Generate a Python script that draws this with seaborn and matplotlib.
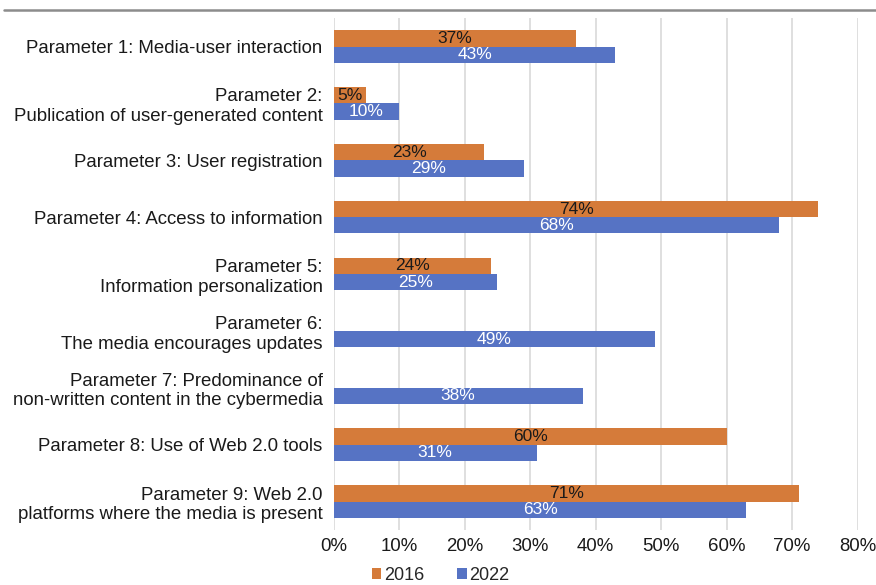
import numpy as np
import pandas as pd
import matplotlib
matplotlib.use("Agg")
import matplotlib.pyplot as plt
from matplotlib.lines import Line2D
from matplotlib.ticker import FuncFormatter
import seaborn as sns

categories = [
    "Parameter 1: Media-user interaction",
    "Parameter 2:\nPublication of user-generated content",
    "Parameter 3: User registration",
    "Parameter 4: Access to information",
    "Parameter 5:\nInformation personalization",
    "Parameter 6:\nThe media encourages updates",
    "Parameter 7: Predominance of\nnon-written content in the cybermedia",
    "Parameter 8: Use of Web 2.0 tools",
    "Parameter 9: Web 2.0\nplatforms where the media is present",
]
values_2016 = [37, 5, 23, 74, 24, np.nan, np.nan, 60, 71]
values_2022 = [43, 10, 29, 68, 25, 49, 38, 31, 63]
years = ["2016", "2022"]
colors = ["#D57B3A", "#5673C4"]

df = pd.DataFrame({
    "Parameter": categories * 2,
    "Year": [years[0]] * len(categories) + [years[1]] * len(categories),
    "Value": values_2016 + values_2022,
})

sns.set_theme(style="white")
plt.rcParams["font.family"] = ["Liberation Sans", "DejaVu Sans"]

fig = plt.figure(figsize=(8.76, 5.85), dpi=100)
ax = fig.add_axes([0.381, 0.094, 0.598, 0.875])

sns.barplot(data=df, y="Parameter", x="Value", hue="Year", order=categories,
            hue_order=years, palette=colors, orient="h", width=0.57,
            saturation=1, errorbar=None, ax=ax, legend=True, linewidth=0)

ax.set_xlim(0, 80)
ax.set_ylim(len(categories) - 0.5, -0.5)
ax.set_xticks(np.arange(0, 81, 10))
ax.xaxis.set_major_formatter(FuncFormatter(lambda v, p: f"{v:.0f}%"))
ax.grid(axis="x", color="#D9D9D9", lw=1.2)
ax.set_axisbelow(True)
for s in ax.spines.values():
    s.set_visible(False)
ax.set_xlabel("")
ax.set_ylabel("")
ax.tick_params(axis="both", length=0, labelsize=13.4, colors="#1a1a1a")
ax.tick_params(axis="y", pad=8)
ax.tick_params(axis="x", pad=6)
for lab in ax.get_yticklabels():
    lab.set_multialignment("right")

text_colors = ["#1a1a1a", "white"]
for cont, tc in zip(ax.containers, text_colors):
    labels = [f"{b.get_width():.0f}%" if np.isfinite(b.get_width()) and b.get_width() > 0 else "" for b in cont]
    ax.bar_label(cont, labels=labels, label_type="center", color=tc, fontsize=12.5)

handles, labs = ax.get_legend_handles_labels()
ax.legend_.remove()
fig.legend(handles, labs, loc="center", bbox_to_anchor=(0.503, 0.017), ncol=2,
           frameon=False, fontsize=13, handlelength=0.55, handleheight=0.55,
           handletextpad=0.15, columnspacing=1.8, borderaxespad=0, borderpad=0)

fig.add_artist(Line2D([0.005, 1.0], [0.983, 0.983], transform=fig.transFigure,
                      color="#8C8C8C", lw=1.8))

fig.savefig("out.png", dpi=100)
